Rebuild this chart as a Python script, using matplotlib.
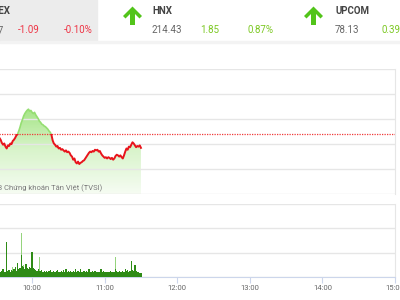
import numpy as np
import matplotlib.pyplot as plt
from matplotlib.colors import LinearSegmentedColormap
from matplotlib.patches import Rectangle, Polygon

plt.rcParams['font.family'] = ['Roboto', 'DejaVu Sans']

# minutes after 9:00
price_min = np.arange(33, 151)
price = [1088.50, 1088.35, 1088.10, 1087.95, 1088.05, 1087.80, 1087.65, 1087.90,
         1087.85, 1088.05, 1088.00, 1088.25, 1088.35, 1088.50, 1088.70, 1088.80,
         1089.05, 1089.35, 1089.70, 1089.95, 1090.25, 1090.45, 1090.60, 1090.72,
         1090.80, 1090.65, 1090.70, 1090.55, 1090.45, 1090.55, 1090.35, 1090.20,
         1090.05, 1089.85, 1089.75, 1089.60, 1089.55, 1089.45, 1089.40, 1089.30,
         1089.20, 1089.05, 1088.95, 1088.75, 1088.30, 1088.05, 1087.95, 1087.80,
         1087.85, 1087.65, 1087.70, 1087.55, 1087.60, 1087.50, 1087.40, 1087.50,
         1087.35, 1087.40, 1087.30, 1087.10, 1087.00, 1086.75, 1086.85, 1086.55,
         1086.45, 1086.60, 1086.40, 1086.50, 1086.55, 1086.65, 1086.70, 1086.85,
         1087.00, 1087.15, 1087.30, 1087.40, 1087.35, 1087.45, 1087.40, 1087.55,
         1087.50, 1087.55, 1087.40, 1087.45, 1087.25, 1087.10, 1087.00, 1086.90,
         1086.95, 1086.85, 1086.95, 1086.90, 1086.80, 1086.90, 1086.75, 1086.85,
         1087.05, 1087.15, 1087.10, 1087.00, 1087.10, 1086.95, 1086.85, 1087.10,
         1087.40, 1087.65, 1087.55, 1087.80, 1087.75, 1087.95, 1088.15, 1088.05,
         1087.90, 1087.75, 1087.85, 1087.80, 1087.90, 1087.70]
ref_price = 1088.84

vol_min = np.arange(33, 151)
vol = [2.3, 2.0, 2.6, 3.1, 2.2, 2.1, 14.5, 2.4,
       2.7, 2.2, 3.0, 2.6, 3.2, 4.0, 2.5, 5.7, 3.1, 3.7,
       9.2, 4.7, 4.3, 3.4, 5.3, 3.8, 3.2, 4.0, 3.5, 10.1,
       3.9, 3.4, 2.9, 2.4, 3.1, 2.6, 2.3, 2.7, 2.2, 2.5,
       2.1, 2.4, 2.0, 2.3, 2.8, 2.2, 2.1, 2.6, 2.0, 2.3,
       2.7, 2.1, 2.2, 2.4, 2.0, 2.9, 2.2, 3.2, 2.1, 2.3,
       2.0, 2.4, 2.1, 2.6, 2.2, 3.1, 2.0, 2.3, 2.1, 3.1,
       2.2, 2.0, 2.5, 2.1, 2.3, 2.0, 3.4, 2.2, 2.1, 2.4,
       2.0, 2.3, 2.1, 1.9, 2.2, 2.0, 3.3, 2.1, 2.3, 2.0,
       2.2, 1.9, 2.1, 2.0, 2.3, 2.1, 2.0, 2.2, 3.1, 2.3,
       2.1, 2.4, 2.0, 2.2, 2.6, 2.1, 3.1, 2.4, 2.7, 2.2,
       2.5, 6.4, 3.0, 2.3, 5.0, 2.6, 2.1, 2.0, 1.8, 1.6]
vol_hi_min = [44, 51, 53, 66, 129]
vol_hi = [4.2, 17.9, 4.8, 8.3, 8.1]

hour_ticks = [60, 120, 180, 240, 300, 360]
hour_labels = ['10:00', '11:00', '12:00', '13:00', '14:00', '15:00']

W, H = 400, 300
fig = plt.figure(figsize=(4, 3), dpi=100)

def fx(x):
    return x / W

def fy(y):
    return 1 - y / H

# header
fig.patches.append(Rectangle((0, fy(41)), fx(97), 41 / H, transform=fig.transFigure,
                             color='#ececec', zorder=0))
fig.patches.append(Rectangle((0, fy(43)), 1, 2 / H, transform=fig.transFigure,
                             color='#f3f3f3', zorder=0))

def arrow(cx):
    pts = [(cx, 6.5), (cx + 9.5, 16), (cx + 7, 18.5), (cx + 2.5, 14), (cx + 2.5, 25),
           (cx - 2.5, 25), (cx - 2.5, 14), (cx - 7, 18.5), (cx - 9.5, 16)]
    fig.patches.append(Polygon([(fx(a), fy(b)) for a, b in pts], closed=True,
                               transform=fig.transFigure, color='#52c41a', lw=0))

red, green, grey, dark = '#ee3344', '#7cc823', '#666666', '#444444'
fig.text(fx(11), fy(11), 'VNINDEX', ha='right', va='center', fontsize=7, weight='bold', color=dark)
fig.text(fx(4), fy(30), '1,087.77', ha='right', va='center', fontsize=7, color=grey)
fig.text(fx(18), fy(30), '-1.09', va='center', fontsize=7, color=red)
fig.text(fx(64), fy(30), '-0.10%', va='center', fontsize=7, color=red)
arrow(132.5)
fig.text(fx(152), fy(11), 'HNX', va='center', fontsize=7, weight='bold', color=dark)
fig.text(fx(152), fy(30), '214.43', va='center', fontsize=7, color=grey)
fig.text(fx(200), fy(30), '1.85', va='center', fontsize=7, color=green)
fig.text(fx(247), fy(30), '0.87%', va='center', fontsize=7, color=green)
arrow(313.5)
fig.text(fx(335), fy(11), 'UPCOM', va='center', fontsize=7, weight='bold', color=dark)
fig.text(fx(335), fy(30), '78.13', va='center', fontsize=7, color=grey)
fig.text(fx(382), fy(30), '0.39%', va='center', fontsize=7, color=green)

# price chart
ax = fig.add_axes([fx(-40.5), fy(194), 435.5 / W, (194 - 69.3) / H])
poly = ax.fill_between(price_min, price, 1084, color='none', lw=0)
grad = np.linspace(0, 1, 256).reshape(-1, 1)
cmap = LinearSegmentedColormap.from_list('g', ['#f6fcf3', '#d9f4cb', '#a2e482'])
im = ax.imshow(grad, extent=[price_min[0], price_min[-1], 1084, 1091], origin='lower',
               cmap=cmap, aspect='auto', zorder=1)
im.set_clip_path(poly.get_paths()[0], transform=ax.transData)
down_line, = ax.plot(price_min, price, color='#e8141c', lw=1.4, zorder=3)
down_line.set_clip_path(Rectangle((0, 1080), 400, ref_price - 1080, transform=ax.transData))
up_line, = ax.plot(price_min, price, color='#95de72', lw=1.2, zorder=4)
up_line.set_clip_path(Rectangle((0, ref_price), 400, 20, transform=ax.transData))
ax.axhline(ref_price, color='#f03a3a', lw=0.9, ls=(0, (1, 1)), zorder=2)
ax.set_xlim(0, 360)
ax.set_ylim(1084, 1094)
ax.set_yticks(np.arange(1084, 1095, 2))
ax.grid(axis='y', color='#e6e6e6', lw=1)
for s in ['left', 'top', 'bottom']:
    ax.spines[s].set_visible(False)
ax.spines['right'].set_color('#e6e6e6')
ax.tick_params(left=False, labelleft=False, bottom=False, labelbottom=False)
ax.text(118, 1084.45, '© 2023 Chứng khoán Tân Việt (TVSI)', ha='right', va='center',
        fontsize=5.5, color='#7a7a7a', zorder=5)

# volume chart
vx = fig.add_axes([fx(-40.5), fy(277), 435.5 / W, 73 / H])
vx.bar(vol_hi_min, vol_hi, width=1.0, color='#96d47e', zorder=2)
vx.bar(vol_min, vol, width=1.0, color='#2e8b16', zorder=3)
vx.set_xlim(0, 360)
vx.set_ylim(0, 30)
vx.set_yticks([0, 10, 20, 30])
vx.grid(axis='y', color='#e6e6e6', lw=1)
vx.spines['left'].set_visible(False)
vx.spines['top'].set_visible(False)
vx.spines['right'].set_color('#e6e6e6')
vx.spines['bottom'].set_color('#ccd6eb')
vx.set_xticks(hour_ticks, hour_labels)
vx.tick_params(axis='x', length=4, color='#ccd6eb', labelsize=5.5, labelcolor='#666666', pad=2)
vx.tick_params(axis='y', left=False, labelleft=False)

fig.savefig('out.png', dpi=100)
